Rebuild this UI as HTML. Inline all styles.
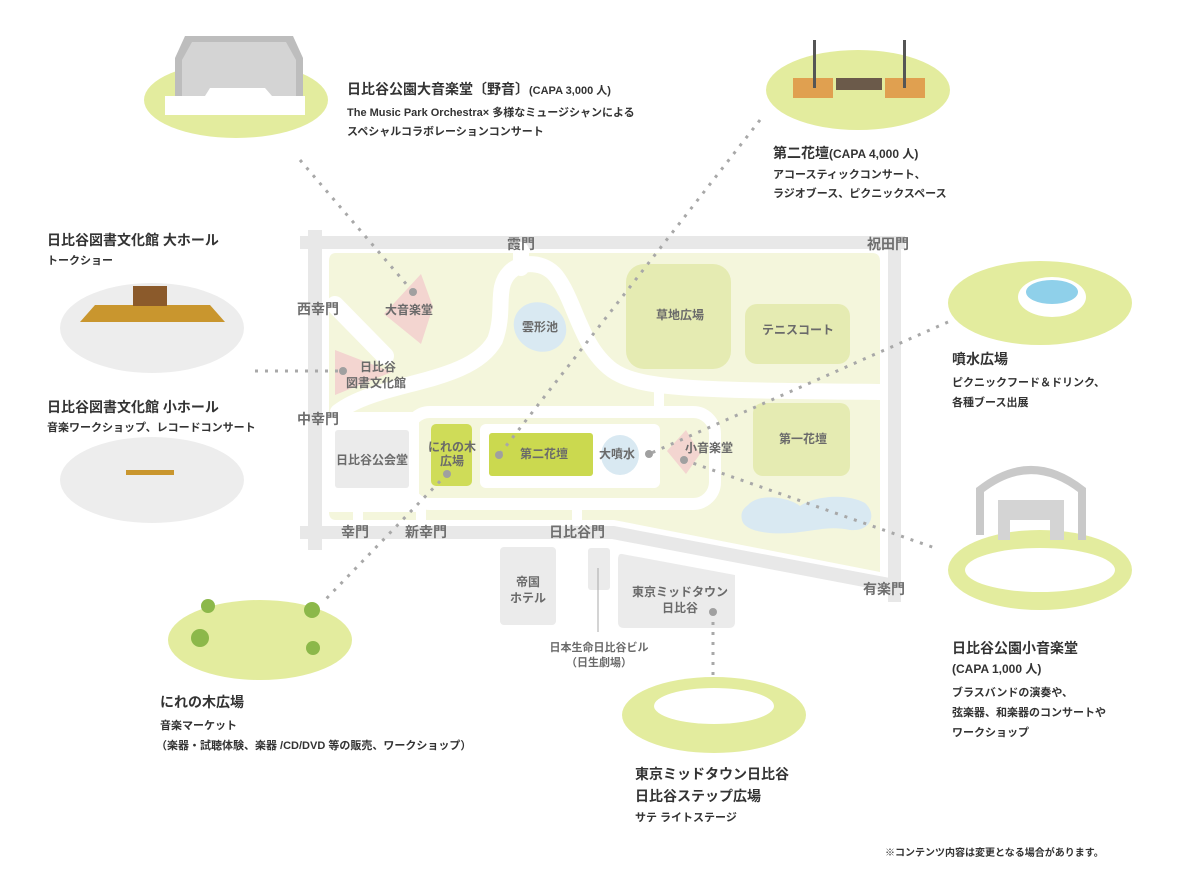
<!DOCTYPE html>
<html><head><meta charset="utf-8"><style>
html,body{margin:0;padding:0;background:#fff}
svg{display:block}
text{font-family:"Liberation Sans","Noto Sans CJK JP",sans-serif}
.t{font-size:14px;font-weight:bold;fill:#333}
.s{font-size:11px;fill:#333;font-weight:bold}
.g{font-size:14px;font-weight:bold;fill:#6f6f6f}
.m{font-size:12px;fill:#6a6a6a;font-weight:bold}
.d{stroke:#a8a8a8;stroke-width:3;stroke-dasharray:3 7;fill:none}
.dot{fill:#a0a0a0}
</style></head><body>
<svg width="1183" height="885" viewBox="0 0 1183 885" xmlns="http://www.w3.org/2000/svg">
<rect x="300" y="236" width="605" height="13" fill="#e8e8e8"/>
<rect x="308" y="230" width="14" height="320" fill="#e8e8e8"/>
<rect x="888" y="236" width="13" height="366" fill="#e8e8e8"/>
<polygon points="300,526 614,526 890,578 890,592 612,539 300,539" fill="#e8e8e8"/>
<path d="M336 253 H872 Q880 253 880 261 V572 L614 520 H336 Q329 520 329 512 V261 Q329 253 336 253Z" fill="#f4f6dc"/>
<g fill="none" stroke="#fff" stroke-linecap="round">
<path d="M335 305 L385 356" stroke-width="18"/>
<path d="M338 412 C380 380 470 385 495 340 C506 310 494 288 510 272 C522 260 545 262 556 276 C576 302 580 346 612 370 C640 390 700 390 880 392" stroke-width="16"/>
<path d="M521 250 V268" stroke-width="16"/>
<rect x="408" y="412" width="307" height="92" rx="22" stroke-width="12"/>
<path d="M329 420 H410" stroke-width="16"/>
<path d="M659 392 V412" stroke-width="10"/>
<path d="M577 505 V520" stroke-width="10"/>
<path d="M358 505 V520" stroke-width="10"/>
<path d="M421 505 V520" stroke-width="10"/>
</g>
<rect x="329" y="412" width="90" height="100" fill="#fff"/>
<rect x="480" y="424" width="180" height="64" rx="6" fill="#fff"/>
<rect x="626" y="264" width="105" height="105" rx="18" fill="#e5ebb2"/>
<rect x="745" y="304" width="105" height="60" rx="12" fill="#e5ebb2"/>
<rect x="753" y="403" width="97" height="73" rx="10" fill="#e5ebb2"/>
<path d="M748 505 C760 492 790 498 800 506 C812 497 845 492 865 503 C878 515 870 532 850 530 C830 526 820 530 800 532 C780 535 745 534 742 520 C740 512 744 508 748 505Z" fill="#d9e9f2"/>
<ellipse cx="540" cy="327" rx="27" ry="24" fill="#d9e9f2" transform="rotate(30 540 327)"/>
<polygon points="421,274 433,307 421,344 384,314" fill="#f3d5d0"/>
<polygon points="335,350 392,372 335,395" fill="#f3d5d0"/>
<polygon points="686,430 700,454 686,474 667,451" fill="#f3d5d0"/>
<rect x="335" y="430" width="74" height="58" rx="3" fill="#ebebeb"/>
<rect x="431" y="424" width="41" height="62" rx="5" fill="#cfdc58"/>
<rect x="489" y="433" width="104" height="43" rx="3" fill="#cbd94f"/>
<ellipse cx="620" cy="455" rx="19" ry="20" fill="#d9e9f2"/>
<rect x="500" y="547" width="56" height="78" rx="4" fill="#ebebeb"/>
<rect x="588" y="548" width="22" height="42" rx="3" fill="#ebebeb"/>
<path d="M622 554 L735 575 V622 Q735 628 729 628 H624 Q618 628 618 622 V560 Q618 553 622 554Z" fill="#ebebeb"/>
<line x1="598" y1="568" x2="598" y2="632" stroke="#aaa" stroke-width="1"/>
<g class="m" text-anchor="middle">
<text x="409" y="314">大音楽堂</text>
<text x="378" y="371">日比谷</text>
<text x="376" y="387">図書文化館</text>
<text x="540" y="331">雲形池</text>
<text x="680" y="319">草地広場</text>
<text x="798" y="334">テニスコート</text>
<text x="803" y="443">第一花壇</text>
<text x="372" y="464">日比谷公会堂</text>
<text x="452" y="451">にれの木</text>
<text x="452" y="465">広場</text>
<text x="544" y="458">第二花壇</text>
<text x="617" y="458">大噴水</text>
<text x="709" y="452">小音楽堂</text>
<text x="528" y="586">帝国</text>
<text x="528" y="602">ホテル</text>
<text x="680" y="596">東京ミッドタウン</text>
<text x="680" y="612">日比谷</text>
<text x="599" y="651" style="font-size:11px">日本生命日比谷ビル</text>
<text x="599" y="666" style="font-size:11px">（日生劇場）</text>
</g>
<g class="g" text-anchor="middle">
<text x="521" y="249">霞門</text>
<text x="888" y="249">祝田門</text>
<text x="318" y="314">西幸門</text>
<text x="318" y="424">中幸門</text>
<text x="355" y="537">幸門</text>
<text x="426" y="537">新幸門</text>
<text x="577" y="537">日比谷門</text>
<text x="884" y="594">有楽門</text>
</g>
<path class="d" d="M300 160 L413 292"/>
<path class="d" d="M255 371 L343 371"/>
<path class="d" d="M760 120 L499 455"/>
<path class="d" d="M948 322 L649 454"/>
<path class="d" d="M684 460 L935 548"/>
<path class="d" d="M447 474 L325 600"/>
<path class="d" d="M713 612 L713 675"/>
<g class="dot"><circle cx="413" cy="292" r="4"/><circle cx="343" cy="371" r="4"/><circle cx="499" cy="455" r="4"/><circle cx="649" cy="454" r="4"/><circle cx="684" cy="460" r="4"/><circle cx="447" cy="474" r="4"/><circle cx="713" cy="612" r="4"/></g>
<ellipse cx="236" cy="100" rx="92" ry="38" fill="#e3ec9e"/>
<polygon points="185,36 293,36 303,58 303,112 175,112 175,58" fill="#bdbdbd"/>
<polygon points="192,42 286,42 296,60 296,96 182,96 182,60" fill="#d4d4d4"/>
<polygon points="165,96 205,96 210,88 265,88 272,96 305,96 305,115 165,115" fill="#fff"/>
<ellipse cx="152" cy="328" rx="92" ry="45" fill="#ededed"/>
<polygon points="95,305 210,305 225,322 80,322" fill="#c9962e"/>
<rect x="133" y="286" width="34" height="20" fill="#8b5a2b"/>
<ellipse cx="152" cy="480" rx="92" ry="43" fill="#ededed"/>
<rect x="126" y="470" width="48" height="5" fill="#c9962e"/>
<ellipse cx="858" cy="90" rx="92" ry="40" fill="#e3ec9e"/>
<rect x="793" y="78" width="40" height="20" fill="#e0a050"/><rect x="885" y="78" width="40" height="20" fill="#e0a050"/>
<rect x="836" y="78" width="46" height="12" fill="#6b5a4a"/>
<rect x="813" y="40" width="3" height="48" fill="#555"/><rect x="903" y="40" width="3" height="48" fill="#555"/>
<ellipse cx="1040" cy="303" rx="92" ry="42" fill="#e3ec9e"/>
<ellipse cx="1052" cy="297" rx="34" ry="20" fill="#fff"/>
<ellipse cx="1052" cy="292" rx="26" ry="12" fill="#8fd0ea"/>
<ellipse cx="1040" cy="570" rx="92" ry="40" fill="#e3ec9e"/>
<ellipse cx="1040" cy="570" rx="75" ry="22" fill="#fff"/>
<path d="M980 535 V490 Q1031 450 1082 490 V540" fill="none" stroke="#c9c9c9" stroke-width="8"/>
<polygon points="998,500 1064,500 1064,540 1050,540 1050,520 1010,520 1010,540 998,540" fill="#d4d4d4"/>
<ellipse cx="260" cy="640" rx="92" ry="40" fill="#e3ec9e"/>
<circle cx="208" cy="606" r="7" fill="#8cb84a"/><circle cx="312" cy="610" r="8" fill="#8cb84a"/><circle cx="200" cy="638" r="9" fill="#8cb84a"/><circle cx="313" cy="648" r="7" fill="#8cb84a"/>
<ellipse cx="714" cy="715" rx="92" ry="38" fill="#e3ec9e"/>
<ellipse cx="714" cy="706" rx="60" ry="18" fill="#fff"/>
<text class="t" x="347" y="94">日比谷公園大音楽堂〔野音〕<tspan style="font-size:11px">(CAPA 3,000 人)</tspan></text>
<text class="s" x="347" y="116">The Music Park Orchestra× 多様なミュージシャンによる</text>
<text class="s" x="347" y="135">スペシャルコラボレーションコンサート</text>
<text class="t" x="773" y="158">第二花壇<tspan style="font-size:12px">(CAPA 4,000 人)</tspan></text>
<text class="s" x="773" y="178">アコースティックコンサート、</text>
<text class="s" x="773" y="197">ラジオブース、ピクニックスペース</text>
<text class="t" x="47" y="245">日比谷図書文化館 大ホール</text>
<text class="s" x="47" y="264">トークショー</text>
<text class="t" x="47" y="412">日比谷図書文化館 小ホール</text>
<text class="s" x="47" y="431">音楽ワークショップ、レコードコンサート</text>
<text class="t" x="952" y="364">噴水広場</text>
<text class="s" x="952" y="386">ピクニックフード＆ドリンク、</text>
<text class="s" x="952" y="406">各種ブース出展</text>
<text class="t" x="952" y="653">日比谷公園小音楽堂</text>
<text class="s" x="952" y="673" style="font-size:12px">(CAPA 1,000 人)</text>
<text class="s" x="952" y="696">ブラスバンドの演奏や、</text>
<text class="s" x="952" y="716">弦楽器、和楽器のコンサートや</text>
<text class="s" x="952" y="736">ワークショップ</text>
<text class="t" x="160" y="707">にれの木広場</text>
<text class="s" x="160" y="729">音楽マーケット</text>
<text class="s" x="156" y="749">（楽器・試聴体験、楽器 /CD/DVD 等の販売、ワークショップ）</text>
<text class="t" x="635" y="779">東京ミッドタウン日比谷</text>
<text class="t" x="635" y="801">日比谷ステップ広場</text>
<text class="s" x="635" y="821">サテ ライトステージ</text>
<text class="s" x="885" y="856" style="font-size:10px">※コンテンツ内容は変更となる場合があります。</text>
</svg>
</body></html>
